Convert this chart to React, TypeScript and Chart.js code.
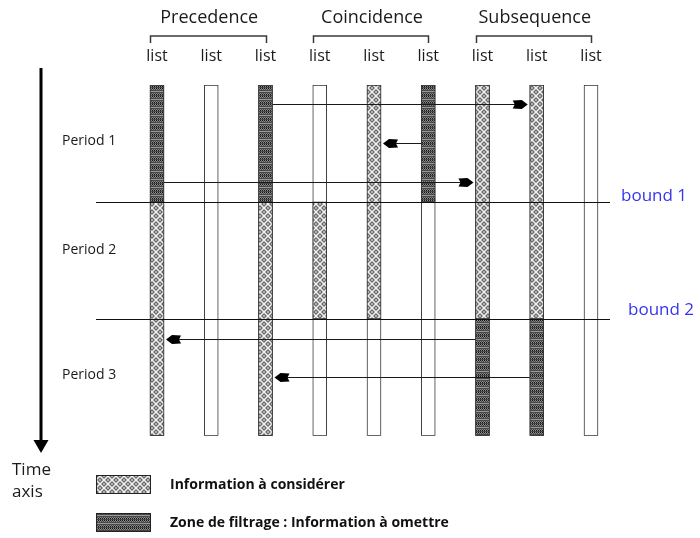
import { useEffect, useRef } from 'react';
import { Chart, registerables } from 'chart.js';

Chart.register(...registerables);

// ---------- data ----------
const columnLabels = ['list', 'list', 'list', 'list', 'list', 'list', 'list', 'list', 'list'];
const groupNames = ['Precedence', 'Coincidence', 'Subsequence'];
const periodNames = ['Period 1', 'Period 2', 'Period 3'];
const boundTimes = [1, 2];
const boundNames = ['bound 1', 'bound 2'];
const fullColumns: [number, number][] = [[0, 3], [0, 3], [0, 3], [0, 3], [0, 3], [0, 3], [0, 3], [0, 3], [0, 3]];
const considerSegments: ([number, number] | null)[] = [[1, 3], null, [1, 3], [1, 2], [0, 2], null, [0, 2], [0, 2], null];
const filterSegments: ([number, number] | null)[] = [[0, 1], null, [0, 1], null, null, [0, 1], [2, 3], [2, 3], null];
const arrowFrom = [2, 5, 0, 6, 7];
const arrowTo = [7, 4, 6, 0, 2];
const arrowTime = [0.16, 0.5, 0.83, 2.17, 2.5];
const legendLabels = ['Information à considérer', 'Zone de filtrage : Information à omettre'];
const timeAxisLabel = ['Time', 'axis'];

// ---------- styles / layout ----------
const FONT = 'Open Sans';
const periodLabelTimes = [0.48, 1.41, 2.48];
const boundLabelX = [621, 628];
const boundLabelDy = [-6, -9];

function makePattern(rows: string[], colors: Record<string, string>): CanvasPattern | string {
  const c = document.createElement('canvas');
  c.width = rows[0].length;
  c.height = rows.length;
  const g = c.getContext('2d');
  if (!g) return colors['.'];
  rows.forEach((row, y) => {
    for (let x = 0; x < row.length; x++) {
      g.fillStyle = colors[row[x]] || colors['.'];
      g.fillRect(x, y, 1, 1);
    }
  });
  const ctx = document.createElement('canvas').getContext('2d');
  return (ctx && ctx.createPattern(c, 'repeat')) || colors['.'];
}

const LIGHT_TILE = [
  'w.d..d.w',
  '.w.dd.w.',
  'd.w..w.d',
  '.d.ww.d.',
  '.d.ww.d.',
  'd.w..w.d',
  '.w.dd.w.',
  'w.d..d.w',
];
const DARK_TILE = [
  'kgkgkgkg',
  'g.g.g.g.',
  '........',
  'llllllll',
  '........',
  'g.g.g.g.',
  'kgkgkgkg',
  '........',
];

const diagramPlugin = {
  id: 'diagram',
  afterDatasetsDraw(chart: any) {
    const ctx: CanvasRenderingContext2D = chart.ctx;
    const ys = chart.scales.y;
    const bars = chart.getDatasetMeta(0).data;
    const hw = (i: number) => bars[i].width / 2;
    ctx.save();

    // bound lines
    ctx.strokeStyle = '#111';
    ctx.lineWidth = 1;
    boundTimes.forEach((t, i) => {
      const y = Math.round(ys.getPixelForValue(t)) + 0.5;
      ctx.beginPath();
      ctx.moveTo(96, y);
      ctx.lineTo(610, y);
      ctx.stroke();
      ctx.fillStyle = '#3535f0';
      ctx.font = `17px "${FONT}"`;
      ctx.textAlign = 'left';
      ctx.textBaseline = 'middle';
      ctx.fillText(boundNames[i], boundLabelX[i], y + boundLabelDy[i]);
    });

    // arrows
    arrowFrom.forEach((from, i) => {
      const to = arrowTo[i];
      const dir = to > from ? 1 : -1;
      const y = Math.round(ys.getPixelForValue(arrowTime[i])) + 0.5;
      const sx = bars[from].x + dir * hw(from);
      const tip = bars[to].x - dir * (hw(to) + 2);
      ctx.strokeStyle = '#1a1a1a';
      ctx.lineWidth = 1;
      ctx.beginPath();
      ctx.moveTo(sx, y);
      ctx.lineTo(tip - dir * 10, y);
      ctx.stroke();
      ctx.fillStyle = '#000';
      ctx.beginPath();
      ctx.moveTo(tip, y);
      ctx.lineTo(tip - dir * 6, y - 4.5);
      ctx.lineTo(tip - dir * 15, y - 4);
      ctx.lineTo(tip - dir * 13, y);
      ctx.lineTo(tip - dir * 15, y + 4);
      ctx.lineTo(tip - dir * 6, y + 4.5);
      ctx.closePath();
      ctx.fill();
    });

    // group titles and brackets
    groupNames.forEach((name, g) => {
      const first = bars[g * 3];
      const mid = bars[g * 3 + 1];
      const last = bars[g * 3 + 2];
      const l = Math.round(first.x - first.width / 2) + 0.5;
      const r = Math.round(last.x) + 0.5;
      ctx.strokeStyle = '#3a3a3a';
      ctx.lineWidth = 1.5;
      ctx.beginPath();
      ctx.moveTo(l, 43);
      ctx.lineTo(l, 36);
      ctx.lineTo(r, 36);
      ctx.lineTo(r, 43);
      ctx.stroke();
      ctx.fillStyle = '#1a1a1a';
      ctx.font = `18px "${FONT}"`;
      ctx.textAlign = 'center';
      ctx.textBaseline = 'middle';
      ctx.fillText(name, mid.x - 2, 18);
    });

    // period labels
    ctx.fillStyle = '#1a1a1a';
    ctx.font = `14px "${FONT}"`;
    ctx.textAlign = 'left';
    ctx.textBaseline = 'middle';
    periodNames.forEach((p, i) => {
      ctx.fillText(p, 62, ys.getPixelForValue(periodLabelTimes[i]));
    });

    // time axis arrow
    ctx.strokeStyle = '#000';
    ctx.lineWidth = 3;
    ctx.beginPath();
    ctx.moveTo(41, 68);
    ctx.lineTo(41, 442);
    ctx.stroke();
    ctx.fillStyle = '#000';
    ctx.beginPath();
    ctx.moveTo(33.5, 440);
    ctx.lineTo(48.5, 440);
    ctx.lineTo(41, 453);
    ctx.closePath();
    ctx.fill();
    ctx.fillStyle = '#1a1a1a';
    ctx.font = `17px "${FONT}"`;
    ctx.fillText(timeAxisLabel[0], 12, 470);
    ctx.fillText(timeAxisLabel[1], 12, 492);

    // legend
    const ds = chart.data.datasets;
    [1, 2].forEach((d, i) => {
      const y = 475 + i * 38;
      ctx.fillStyle = ds[d].backgroundColor;
      ctx.fillRect(96, y, 55, 19);
      ctx.strokeStyle = '#222';
      ctx.lineWidth = 1;
      ctx.strokeRect(96.5, y + 0.5, 54, 18);
      ctx.fillStyle = '#111';
      ctx.font = `bold 14px "${FONT}"`;
      ctx.fillText(ds[d].label, 170, y + 10);
    });

    ctx.restore();
  },
};

export default function App() {
  const ref = useRef<HTMLCanvasElement | null>(null);

  useEffect(() => {
    document.body.style.margin = '0';
    const canvas = ref.current;
    if (!canvas) return;
    const light = makePattern(LIGHT_TILE, { '.': '#b2b2b2', w: '#f2f2f2', d: '#6a6a6a' });
    const dark = makePattern(DARK_TILE, { '.': '#484848', k: '#161616', g: '#8a8a8a', l: '#9a9a9a' });
    const common = { borderColor: '#333333', borderWidth: 1, borderSkipped: false, grouped: false, barThickness: 14 };
    const chart = new Chart(canvas, {
      type: 'bar',
      data: {
        labels: columnLabels,
        datasets: [
          { label: 'column', data: fullColumns, backgroundColor: '#ffffff', order: 3, ...common } as any,
          { label: legendLabels[0], data: considerSegments, backgroundColor: light, order: 2, ...common } as any,
          { label: legendLabels[1], data: filterSegments, backgroundColor: dark, order: 1, ...common } as any,
        ],
      },
      options: {
        responsive: false,
        animation: false,
        devicePixelRatio: 1,
        layout: { padding: { left: 129.875, right: 81.875, top: 27.8, bottom: 102.3 } },
        plugins: { legend: { display: false }, tooltip: { enabled: false } },
        scales: {
          x: {
            position: 'top',
            grid: { display: false, drawTicks: false },
            border: { display: false },
            ticks: {
              autoSkip: false,
              maxRotation: 0,
              padding: 19,
              color: '#1a1a1a',
              font: { family: FONT, size: 16 },
            },
          },
          y: { display: false, min: 0, max: 3, reverse: true },
        },
      } as any,
      plugins: [diagramPlugin],
    });
    return () => chart.destroy();
  }, []);

  return <canvas ref={ref} width={700} height={538} style={{ display: 'block', width: 700, height: 538 }} />;
}
